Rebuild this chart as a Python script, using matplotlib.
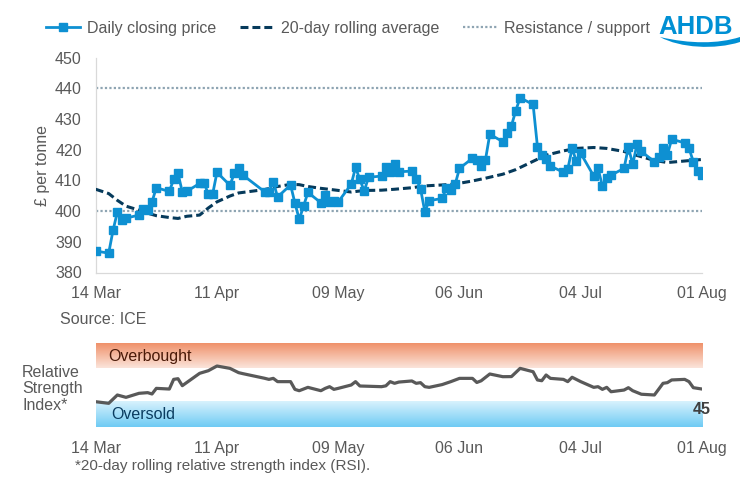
import matplotlib
matplotlib.use('Agg')
import matplotlib.pyplot as plt
import matplotlib.dates as mdates
from matplotlib.lines import Line2D
from matplotlib.path import Path
from matplotlib.patches import PathPatch
import numpy as np
import pandas as pd

# 交易日 (复活节两天休市)
trade_dates = pd.bdate_range('2025-03-14', '2025-08-01').drop(
    pd.to_datetime(['2025-04-18', '2025-04-21']))

# 每日收盘价 (£/t)
close_price = [
    387.0, 386.3, 393.7, 399.7, 397.1, 397.7, 398.7, 400.8, 400.5, 403.0,
    407.6, 406.4, 410.3, 412.3, 406.2, 406.4, 409.0, 409.3, 405.5, 405.5,
    412.6, 408.4, 412.3, 414.0, 411.7, 406.3, 406.3, 409.5, 404.6, 408.5,
    402.6, 397.3, 401.6, 406.1, 402.7, 405.2, 402.8, 403.4, 403.0, 408.7,
    414.2, 410.3, 406.5, 411.0, 411.4, 414.3, 412.7, 415.3, 412.8, 413.0,
    410.6, 407.3, 399.8, 403.4, 404.1, 407.6, 406.8, 408.7, 413.9, 417.2,
    416.6, 414.7, 416.7, 425.0, 422.6, 425.3, 427.8, 432.7, 436.9, 434.7,
    421.0, 418.1, 417.1, 414.7, 412.6, 413.6, 420.4, 416.2, 418.8, 411.4,
    413.9, 408.1, 410.8, 411.7, 413.9, 420.8, 415.2, 421.8, 419.4, 416.1,
    417.7, 420.4, 418.3, 423.4, 422.2, 420.4, 416.1, 413.0, 411.7,
]

# 20日滚动均值 (读图取样)
ma_dates = pd.to_datetime([
    '2025-03-14', '2025-03-17', '2025-03-19', '2025-03-21', '2025-03-24',
    '2025-03-26', '2025-03-28', '2025-03-31', '2025-04-02', '2025-04-04',
    '2025-04-07', '2025-04-09', '2025-04-11', '2025-04-14', '2025-04-16',
    '2025-04-22', '2025-04-25', '2025-04-28', '2025-04-30', '2025-05-02',
    '2025-05-05', '2025-05-08', '2025-05-12', '2025-05-15', '2025-05-19',
    '2025-05-22', '2025-05-26', '2025-05-29', '2025-06-02', '2025-06-05',
    '2025-06-09', '2025-06-12', '2025-06-16', '2025-06-19', '2025-06-23',
    '2025-06-26', '2025-06-30', '2025-07-03', '2025-07-07', '2025-07-10',
    '2025-07-14', '2025-07-17', '2025-07-21', '2025-07-24', '2025-07-28',
    '2025-08-01',
])
ma_values = [
    407.1, 405.7, 403.5, 401.6, 400.3, 399.3, 398.5, 397.9, 397.6, 398.3,
    398.7, 401.0, 403.0, 404.9, 405.9, 407.0, 408.0, 408.7, 408.6, 408.0,
    407.4, 406.9, 406.2, 406.7, 406.8, 407.1, 407.6, 408.2, 408.5, 408.8,
    409.8, 410.7, 412.0, 413.5, 416.2, 418.2, 419.6, 420.4, 420.7, 420.4,
    419.4, 418.1, 416.5, 415.8, 416.3, 416.8,
]

# 阻力 / 支撑
resistance = 440
support = 400

# RSI (读图取样)
rsi_dates = pd.to_datetime([
    '2025-03-14', '2025-03-17', '2025-03-19', '2025-03-21', '2025-03-24',
    '2025-03-26', '2025-03-27', '2025-03-28', '2025-03-31', '2025-04-01',
    '2025-04-02', '2025-04-03', '2025-04-07', '2025-04-09', '2025-04-11',
    '2025-04-14', '2025-04-16', '2025-04-17', '2025-04-22', '2025-04-23',
    '2025-04-24', '2025-04-25', '2025-04-28', '2025-04-29', '2025-04-30',
    '2025-05-02', '2025-05-05', '2025-05-06', '2025-05-07', '2025-05-08',
    '2025-05-09', '2025-05-12', '2025-05-13', '2025-05-14', '2025-05-16',
    '2025-05-19', '2025-05-20', '2025-05-21', '2025-05-22', '2025-05-23',
    '2025-05-26', '2025-05-27', '2025-05-28', '2025-05-29', '2025-05-30',
    '2025-06-02', '2025-06-04', '2025-06-06', '2025-06-09', '2025-06-10',
    '2025-06-11', '2025-06-13', '2025-06-16', '2025-06-18', '2025-06-20',
    '2025-06-23', '2025-06-24', '2025-06-25', '2025-06-26', '2025-06-27',
    '2025-06-30', '2025-07-01', '2025-07-02', '2025-07-04', '2025-07-07',
    '2025-07-08', '2025-07-09', '2025-07-10', '2025-07-11', '2025-07-14',
    '2025-07-15', '2025-07-16', '2025-07-18', '2025-07-21', '2025-07-22',
    '2025-07-23', '2025-07-24', '2025-07-25', '2025-07-28', '2025-07-29',
    '2025-07-30', '2025-08-01',
])
rsi_values = [
    30.1, 28.2, 38.1, 35.3, 40.1, 40.9, 39.3, 46.0, 45.2, 56.7,
    57.5, 49.2, 63.9, 67.0, 72.6, 69.8, 64.7, 63.5, 58.0, 56.7,
    57.9, 54.0, 54.0, 44.8, 43.2, 47.2, 43.2, 46.0, 48.0, 44.8,
    46.0, 50.0, 54.0, 48.8, 48.5, 48.0, 49.0, 54.0, 52.0, 53.5,
    54.8, 52.0, 52.8, 48.0, 47.2, 50.5, 54.0, 57.9, 57.9, 53.0,
    55.0, 63.1, 59.9, 60.0, 69.8, 65.8, 56.0, 55.1, 61.9, 57.9,
    56.7, 54.0, 59.2, 54.0, 47.2, 48.0, 44.8, 47.2, 42.0, 44.0,
    46.8, 43.2, 39.0, 38.1, 45.0, 52.0, 52.8, 56.0, 56.7, 54.0,
    46.8, 45.2,
]
overbought = (70, 100)
oversold = (0, 30)

tick_dates = pd.to_datetime(['2025-03-14', '2025-04-11', '2025-05-09',
                             '2025-06-06', '2025-07-04', '2025-08-01'])

# 颜色
BLUE = '#0E90D2'
NAVY = '#063A5B'
DOT = '#8EA4B2'
TEXT = '#595959'
SPINE = '#D9D9D9'

plt.rcParams['font.family'] = ['Liberation Sans', 'DejaVu Sans']
plt.rcParams['font.size'] = 11.5

W, H = 741, 492
fig = plt.figure(figsize=(W / 100, H / 100), dpi=100)


def fx(px):
    return px / W


def fy(py):
    return 1 - py / H


x_left, x_right = 95.7, 702
date_lo, date_hi = trade_dates[0], trade_dates[-1]

# 上图：价格
ax = fig.add_axes([fx(x_left), fy(272.5), fx(x_right - x_left), (272.5 - 57.5) / H])
ax.plot(trade_dates, close_price, color=BLUE, lw=2, marker='s', ms=5.5,
        mfc=BLUE, mec=BLUE, zorder=4, label='Daily closing price')
ax.plot(ma_dates, ma_values, color=NAVY, lw=2.2, linestyle=(0, (2.6, 1.3)),
        zorder=3, label='20-day rolling average')
for lvl in (resistance, support):
    ax.axhline(lvl, color=DOT, lw=1.6, linestyle=(0, (1, 1)), zorder=2)

ax.set_xlim(date_lo, date_hi)
ax.set_ylim(380, 450)
ax.set_yticks(np.arange(380, 451, 10))
ax.set_xticks(tick_dates)
ax.xaxis.set_major_formatter(mdates.DateFormatter('%d %b'))
ax.tick_params(length=0, colors=TEXT, labelsize=11.5)
ax.tick_params(axis='y', pad=10)
ax.tick_params(axis='x', pad=10)
for s in ('top', 'right'):
    ax.spines[s].set_visible(False)
for s in ('left', 'bottom'):
    ax.spines[s].set_color(SPINE)
    ax.spines[s].set_linewidth(0.9)
ax.set_facecolor('none')

fig.text(fx(42), fy(166), '£ per tonne', rotation=90, ha='center', va='center',
         color=TEXT, fontsize=11.5)
fig.text(fx(60), fy(319), 'Source: ICE', ha='left', va='center', color=TEXT,
         fontsize=11.5)

# 图例
handles = [
    Line2D([], [], color=BLUE, lw=2, marker='s', ms=5.5),
    Line2D([], [], color=NAVY, lw=2.2, linestyle=(0, (2.6, 1.3))),
    Line2D([], [], color=DOT, lw=1.6, linestyle=(0, (1, 1))),
]
labels = ['Daily closing price', '20-day rolling average', 'Resistance / support']
leg = fig.legend(handles, labels, loc='center left', bbox_to_anchor=(fx(46), fy(28)),
                 ncol=3, frameon=False, fontsize=11.5, handlelength=2.1,
                 handletextpad=0.45, columnspacing=1.5, borderaxespad=0,
                 borderpad=0)
for t in leg.get_texts():
    t.set_color(TEXT)

# AHDB 标志
fig.text(fx(733), fy(27), 'AHDB', ha='right', va='center', color='#0090D4',
         fontsize=18.5, fontweight='bold')
sw = [(660, 37), (680, 48), (715, 50), (740, 42),
      (740, 37), (718, 44), (690, 44), (660, 37)]
codes = [Path.MOVETO, Path.CURVE4, Path.CURVE4, Path.CURVE4,
         Path.LINETO, Path.CURVE4, Path.CURVE4, Path.CURVE4]
sw_path = Path([(fx(x), fy(y)) for x, y in sw], codes)
fig.patches.append(PathPatch(sw_path, transform=fig.transFigure,
                             facecolor='#0090D4', edgecolor='none'))

# 下图：RSI
ax2 = fig.add_axes([fx(x_left), fy(427), fx(x_right - x_left), 84 / H])
x0n, x1n = mdates.date2num(date_lo), mdates.date2num(date_hi)


def gradient(top, bottom, n=64):
    top = np.array(matplotlib.colors.to_rgb(top))
    bottom = np.array(matplotlib.colors.to_rgb(bottom))
    t = np.linspace(0, 1, n)[:, None]
    return (top * (1 - t) + bottom * t)[:, None, :]


ax2.imshow(gradient('#EF8E66', '#FBE4DA'), extent=[x0n, x1n, *overbought],
           aspect='auto', origin='upper', zorder=0, interpolation='bilinear')
ax2.imshow(gradient('#D8F2FD', '#6FCBF4'), extent=[x0n, x1n, *oversold],
           aspect='auto', origin='upper', zorder=0, interpolation='bilinear')
ax2.plot(rsi_dates, rsi_values, color='#595959', lw=2.3, zorder=3)
ax2.annotate(f'{rsi_values[-1]:.0f}', (rsi_dates[-1], rsi_values[-1]),
             xytext=(0, -15), textcoords='offset points', ha='center',
             va='center', fontweight='bold', color='#404040', fontsize=11.5)
ax2.text(0.021, 84.5, 'Overbought', transform=ax2.get_yaxis_transform(),
         ha='left', va='center', color='#4A1A08', fontsize=11.5)
ax2.text(0.025, 14.3, 'Oversold', transform=ax2.get_yaxis_transform(),
         ha='left', va='center', color='#0A3C60', fontsize=11.5)

ax2.set_xlim(date_lo, date_hi)
ax2.set_ylim(0, 100)
ax2.set_yticks([])
ax2.set_xticks(tick_dates)
ax2.xaxis.set_major_formatter(mdates.DateFormatter('%d %b'))
ax2.tick_params(length=0, colors=TEXT, labelsize=11.5, pad=10)
for s in ax2.spines.values():
    s.set_visible(False)

fig.text(fx(22), fy(389), 'Relative\nStrength\nIndex*', ha='left', va='center',
         color=TEXT, fontsize=11.5, linespacing=1.15)
fig.text(fx(75), fy(466), '*20-day rolling relative strength index (RSI).',
         ha='left', va='center', color=TEXT, fontsize=11)

fig.savefig('out.png', dpi=100)
plt.close(fig)
